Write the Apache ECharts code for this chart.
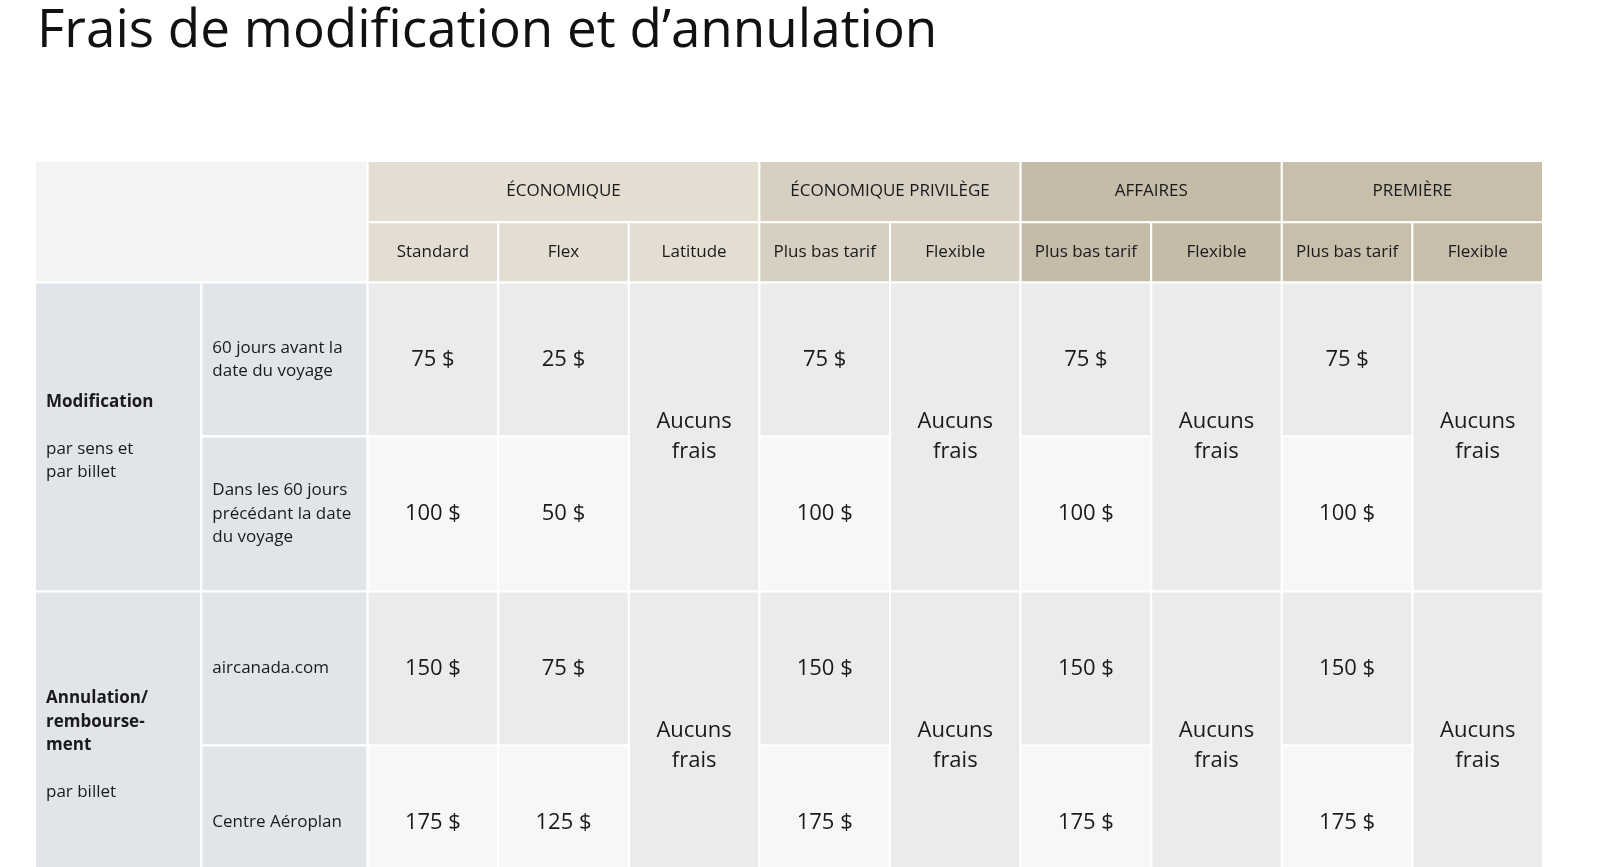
<!DOCTYPE html>
<html>
<head>
<meta charset="utf-8">
<script src="https://cdn.jsdelivr.net/npm/echarts@6/dist/echarts.min.js"></script>
<style>html,body{margin:0;background:#fff}#c{width:1600px;height:867px}</style>
</head>
<body>
<div id="c"></div>
<script>
// table content: [col0, col1, row0, row1, text, kind]
const groupHeaders = [
  [2, 5, 0, 1, 'ÉCONOMIQUE', 'h1'],
  [5, 7, 0, 1, 'ÉCONOMIQUE PRIVILÈGE', 'h2'],
  [7, 9, 0, 1, 'AFFAIRES', 'h3'],
  [9, 11, 0, 1, 'PREMIÈRE', 'h4']
];
const subHeaders = [
  [2, 3, 1, 2, 'Standard', 'h1'], [3, 4, 1, 2, 'Flex', 'h1'], [4, 5, 1, 2, 'Latitude', 'h1'],
  [5, 6, 1, 2, 'Plus bas tarif', 'h2'], [6, 7, 1, 2, 'Flexible', 'h2'],
  [7, 8, 1, 2, 'Plus bas tarif', 'h3'], [8, 9, 1, 2, 'Flexible', 'h3'],
  [9, 10, 1, 2, 'Plus bas tarif', 'h4'], [10, 11, 1, 2, 'Flexible', 'h4']
];
const sideLabels = [
  [0, 2, 0, 2, '', 'blank'],
  [0, 1, 2, 4, '{b|Modification}\n\npar sens et\npar billet', 'side'],
  [1, 2, 2, 3, '60 jours avant la\ndate du voyage', 'side'],
  [1, 2, 3, 4, 'Dans les 60 jours\nprécédant la date\ndu voyage', 'side'],
  [0, 1, 4, 6, '{b|Annulation/}\n{b|rembourse-}\n{b|ment}\n\npar billet', 'side'],
  [1, 2, 4, 5, 'aircanada.com', 'side'],
  [1, 2, 5, 6, 'Centre Aéroplan', 'side']
];
const feeCells = [
  [2, 3, 2, 3, '75 $', 'd'], [3, 4, 2, 3, '25 $', 'd'], [4, 5, 2, 4, 'Aucuns\nfrais', 'd'],
  [5, 6, 2, 3, '75 $', 'd'], [6, 7, 2, 4, 'Aucuns\nfrais', 'd'],
  [7, 8, 2, 3, '75 $', 'd'], [8, 9, 2, 4, 'Aucuns\nfrais', 'd'],
  [9, 10, 2, 3, '75 $', 'd'], [10, 11, 2, 4, 'Aucuns\nfrais', 'd'],
  [2, 3, 3, 4, '100 $', 'l'], [3, 4, 3, 4, '50 $', 'l'],
  [5, 6, 3, 4, '100 $', 'l'], [7, 8, 3, 4, '100 $', 'l'], [9, 10, 3, 4, '100 $', 'l'],
  [2, 3, 4, 5, '150 $', 'd'], [3, 4, 4, 5, '75 $', 'd'], [4, 5, 4, 6, 'Aucuns\nfrais', 'd'],
  [5, 6, 4, 5, '150 $', 'd'], [6, 7, 4, 6, 'Aucuns\nfrais', 'd'],
  [7, 8, 4, 5, '150 $', 'd'], [8, 9, 4, 6, 'Aucuns\nfrais', 'd'],
  [9, 10, 4, 5, '150 $', 'd'], [10, 11, 4, 6, 'Aucuns\nfrais', 'd'],
  [2, 3, 5, 6, '175 $', 'l'], [3, 4, 5, 6, '125 $', 'l'],
  [5, 6, 5, 6, '175 $', 'l'], [7, 8, 5, 6, '175 $', 'l'], [9, 10, 5, 6, '175 $', 'l']
];

// layout
const colWidths = [163, 163, 128, 128, 128, 128, 128, 128, 128, 128, 128];
const rowHeights = [60, 59, 151, 152, 151, 151];
const colEdges = [0]; colWidths.forEach(w => colEdges.push(colEdges[colEdges.length - 1] + w));
const rowEdges = [0]; rowHeights.forEach(h => rowEdges.push(rowEdges[rowEdges.length - 1] + h));

const fills = {
  blank: '#f4f4f4', side: '#e1e4e8', d: '#ebebeb', l: '#f7f7f7',
  h1: '#e3ddd2', h2: '#d6cfc2', h3: '#c4bba9', h4: '#c7beac'
};
const cells = [...sideLabels, ...groupHeaders, ...subHeaders, ...feeCells];
const font = '"Open Sans", "Noto Sans", sans-serif';

const chart = echarts.init(document.getElementById('c'));
chart.setOption({
  animation: false,
  title: {
    text: 'Frais de modification et d’annulation', left: 32, top: 0,
    textStyle: { fontSize: 53, fontWeight: 'normal', color: '#111', fontFamily: font }
  },
  grid: { left: 35, right: 57, top: 161, bottom: 0 },
  xAxis: { type: 'value', min: 0, max: colEdges[colEdges.length - 1], show: false },
  yAxis: { type: 'value', min: 0, max: 692, inverse: true, show: false },
  series: [{
    type: 'custom',
    clip: true,
    data: cells.map(c => [c[0], c[1], c[2], c[3]]),
    renderItem: (params, api) => {
      const c = cells[params.dataIndex];
      const p0 = api.coord([colEdges[c[0]], rowEdges[c[2]]]);
      const p1 = api.coord([colEdges[c[1]], rowEdges[c[3]]]);
      const kind = c[5];
      const isSide = kind === 'side';
      const isHead = kind[0] === 'h';
      return {
        type: 'group',
        children: [
          { type: 'rect', shape: { x: p0[0], y: p0[1], width: p1[0] - p0[0], height: p1[1] - p0[1] },
            style: { fill: fills[kind], stroke: '#fff', lineWidth: 2 } },
          { type: 'text',
            x: isSide ? p0[0] + 11 : (p0[0] + p1[0]) / 2,
            y: (p0[1] + p1[1]) / 2,
            style: {
              text: c[4], align: isSide ? 'left' : 'center', verticalAlign: 'middle',
              fontFamily: font, fill: '#1a1a1a',
              fontSize: isSide || isHead ? 17 : 22,
              lineHeight: isSide ? 23.5 : (isHead ? 22 : 30),
              rich: { b: { fontWeight: 'bold', fontSize: 17, lineHeight: 23.5, fontFamily: font, fill: '#1a1a1a' } }
            } }
        ]
      };
    }
  }]
});
</script>
</body>
</html>
